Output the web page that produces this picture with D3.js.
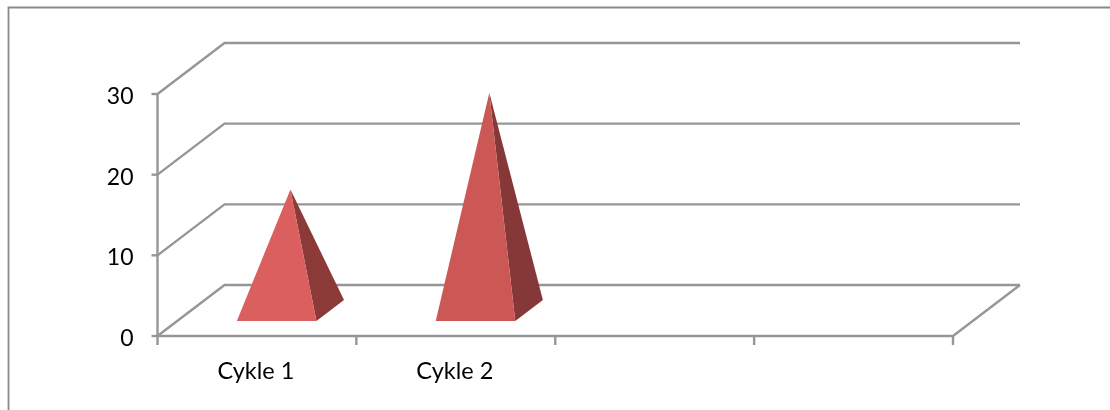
<!DOCTYPE html>
<html>
<head>
<meta charset="utf-8">
<script src="https://cdn.jsdelivr.net/npm/d3@7"></script>
<style>
    html, body { margin: 0; padding: 0; background: #fff; }
    svg { display: block; filter: blur(0.4px); }
    text { font-family: Lato, sans-serif; fill: #000; }
</style>
</head>
<body>
<div id="container"></div>
<script>
const categories = ["Cykle 1", "Cykle 2", "", ""]
const values = [15, 27]
const yTicks = [0, 10, 20, 30]
const leftFaceColors = ["#da5f5e", "#cc5856"]
const rightFaceColors = ["#8b3a38", "#853837"]

const width = 1110
const height = 410
const gridColor = "#969696"

// front edge of the floor and the offset of the back wall
const x0 = 157.5
const x1 = 953
const depthX = 67
const depthY = -51

const svg = d3.select("#container").append("svg")
    .attr("width", width).attr("height", height)

const xScale = d3.scaleBand().domain(d3.range(categories.length)).range([x0, x1])
const yScale = d3.scaleLinear().domain([0, 30]).range([336, 94])

// x in px along the front edge, v in data units, d from 0 (front) to 1 (back)
const project = (x, v, d) => [x + depthX * d, yScale(v) + depthY * d]
const line = d3.line()

// outer frame
svg.append("path")
    .attr("d", "M8.5,410V7.5H1110")
    .attr("fill", "none")
    .attr("stroke", "#8a8a8a")
    .attr("stroke-width", 1.8)

const grid = svg.append("g").attr("fill", "none").attr("stroke", gridColor).attr("stroke-width", 2.4)

yTicks.forEach(t => {
    grid.append("path").attr("d", line([
        project(x0, t, 0), project(x0, t, 1), project(x1, t, 1)
    ]))
    grid.append("path").attr("d", line([
        [x0 - 6, yScale(t)], project(x0, t, 0)
    ]))
})

// left axis and floor
grid.append("path").attr("d", line([project(x0, 0, 0), project(x0, 30, 0)]))
grid.append("path").attr("d", line([
    project(x0, 0, 0), project(x1, 0, 0), project(x1, 0, 1)
]))
xScale.domain().concat([categories.length]).forEach(i => {
    const x = i < categories.length ? xScale(i) : x1
    grid.append("path").attr("d", line([[x, yScale(0)], [x, yScale(0) + 9]]))
})

// pyramids, the base runs from 0.29 to 0.71 of the depth
const baseFront = 0.294
const baseBack = 0.706
const baseWidth = xScale.bandwidth() * 0.4

values.forEach((v, i) => {
    const xl = xScale(i) + (xScale.bandwidth() - baseWidth) / 2
    const xr = xl + baseWidth
    const apex = project((xl + xr) / 2, v, 0.5)
    const g = svg.append("g")
    g.append("path")
        .attr("d", line([project(xr, 0, baseFront), project(xr, 0, baseBack), apex]) + "Z")
        .attr("fill", rightFaceColors[i])
    g.append("path")
        .attr("d", line([project(xl, 0, baseFront), project(xr, 0, baseFront), apex]) + "Z")
        .attr("fill", leftFaceColors[i])
})

// labels
svg.append("g").selectAll("text").data(yTicks).join("text")
    .attr("x", x0 - 24)
    .attr("y", d => yScale(d) + 10)
    .attr("text-anchor", "end")
    .attr("font-size", 23)
    .text(d => d)

svg.append("g").selectAll("text").data(categories).join("text")
    .attr("x", (d, i) => xScale(i) + xScale.bandwidth() / 2 - 1)
    .attr("y", 379)
    .attr("text-anchor", "middle")
    .attr("font-size", 23.5)
    .text(d => d)
</script>
</body>
</html>
